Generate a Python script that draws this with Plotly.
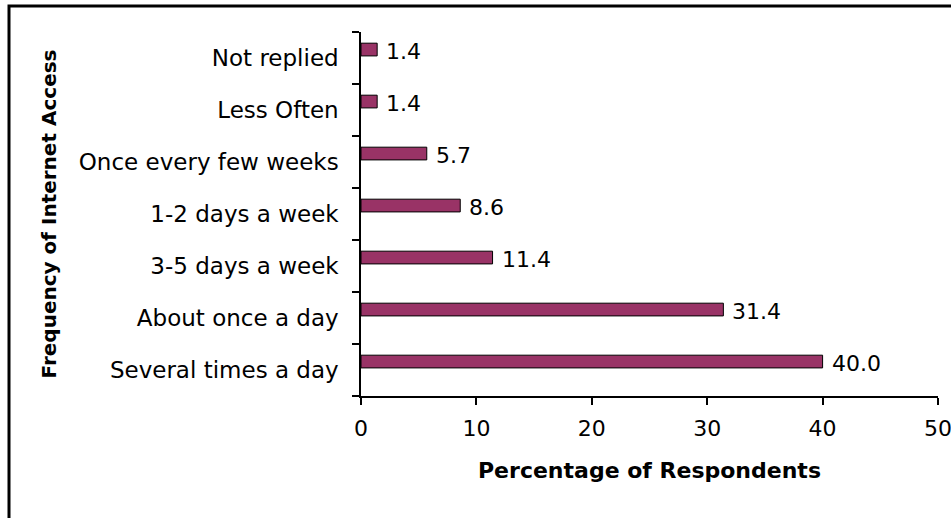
import plotly.graph_objects as go

# Data (top-to-bottom order as shown in the reference)
categories = ["Not replied", "Less Often", "Once every few weeks", "1-2 days a week",
              "3-5 days a week", "About once a day", "Several times a day"]
values = [1.4, 1.4, 5.7, 8.6, 11.4, 31.4, 40.0]
x_ticks = [0, 10, 20, 30, 40, 50]
x_title = "Percentage of Respondents"
y_title = "Frequency of Internet Access"

# plotly categorical y axis runs bottom-to-top, so reverse
cats = categories[::-1]
vals = values[::-1]

W, H = 951, 518
L, R, T, B = 361, 13, 32, 122

fig = go.Figure()
fig.add_trace(go.Bar(
    x=vals, y=cats, orientation="h",
    marker=dict(color="#993366", line=dict(color="black", width=1)),
    width=0.245, offset=0.04,
    hoverinfo="x+y", showlegend=False,
))

for c, v in zip(cats, vals):
    fig.add_annotation(
        x=v, y=c, xref="x", yref="y", text=f"{v:.1f}", showarrow=False,
        xanchor="left", yanchor="middle", xshift=7, yshift=7,
        font=dict(family="DejaVu Sans", size=22, color="black"),
    )

pw = W - L - R
ph = H - T - B
# outer frame (extends past the right/bottom edges like the reference)
fig.add_shape(type="rect", xref="paper", yref="paper",
              x0=(9 - L) / pw, x1=(960 - L) / pw,
              y0=(H - B - 530) / ph, y1=(H - B - 6) / ph,
              line=dict(color="black", width=3), fillcolor="rgba(0,0,0,0)", layer="below")

fig.update_layout(
    width=W, height=H,
    margin=dict(l=L, r=R, t=T, b=B, autoexpand=False),
    paper_bgcolor="white", plot_bgcolor="white",
    font=dict(family="DejaVu Sans", size=22, color="black"),
    xaxis=dict(
        range=[0, 50], tickvals=x_ticks, ticktext=[str(t) for t in x_ticks],
        showline=True, linecolor="black", linewidth=1.5, mirror=False,
        ticks="outside", ticklen=7, tickwidth=1.5, tickcolor="black",
        ticklabelstandoff=5, ticklabeloverflow="allow",
        showgrid=False, zeroline=False,
        tickfont=dict(family="DejaVu Sans", size=22, color="black"),
        title=dict(text=x_title, font=dict(family="DejaVu Sans", size=22, color="black", weight="bold"),
                   standoff=22),
        automargin=False, fixedrange=True,
    ),
    yaxis=dict(
        type="category", categoryorder="array", categoryarray=cats,
        range=[-0.5, 6.5],
        showline=True, linecolor="black", linewidth=1.5,
        ticks="outside", ticklen=7, tickwidth=1.5, tickcolor="black",
        tickson="boundaries", ticklabelstandoff=16,
        showgrid=False, zeroline=False,
        tickfont=dict(family="DejaVu Sans", size=23, color="black"),
        title=dict(text=y_title, font=dict(family="DejaVu Sans", size=20, color="black", weight="bold"),
                   standoff=17),
        automargin=False, fixedrange=True,
    ),
    bargap=0.5,
)

fig.write_html("out.html", config={"displayModeBar": False},
               post_script="document.body.style.margin='0';document.body.style.overflow='hidden';")
